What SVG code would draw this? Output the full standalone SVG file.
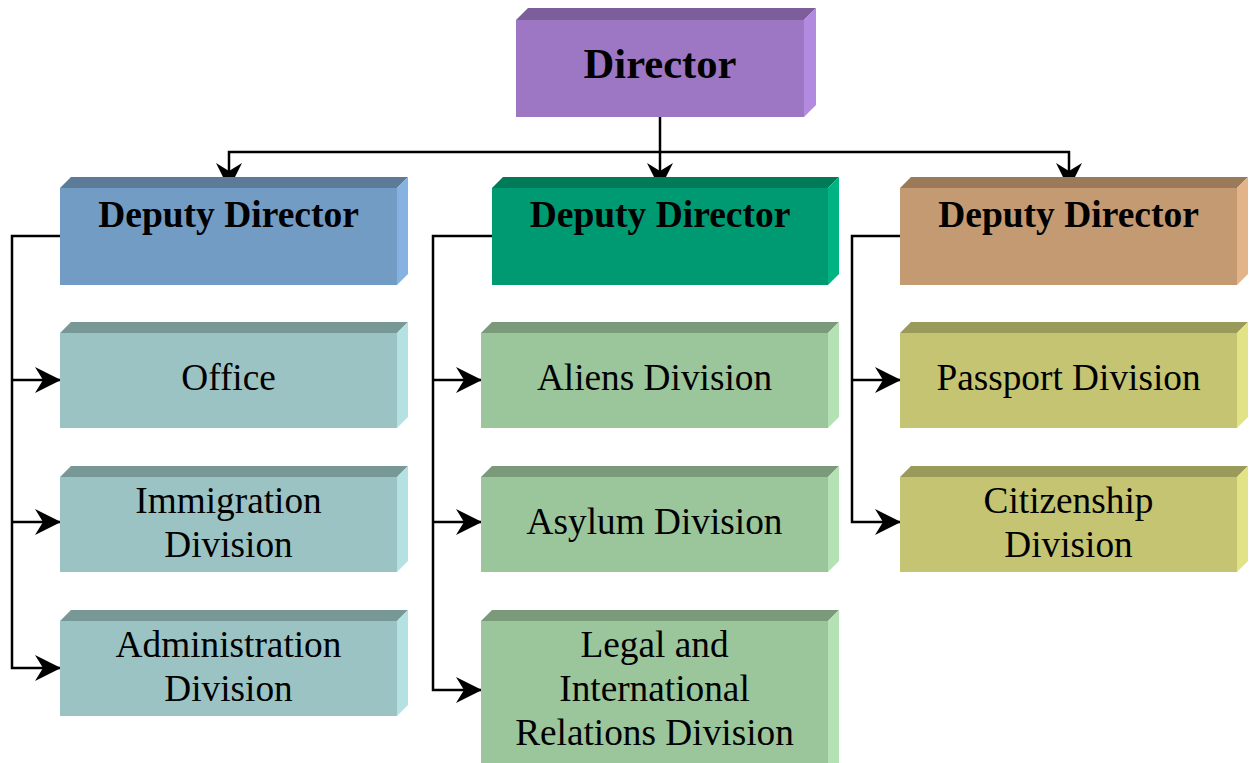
<svg xmlns="http://www.w3.org/2000/svg" width="1252" height="763" viewBox="0 0 1252 763">
<defs>
<style>
text{font-family:"Liberation Serif","Times New Roman",serif;fill:#000;text-anchor:middle}
.t{font-size:37.3px}
.b{font-size:37.5px;font-weight:bold}
.bb{font-size:42.6px;font-weight:bold}
.con{fill:none;stroke:#000;stroke-width:2.5}
.arr{marker-end:url(#ah)}
.pf{fill:#9d77c3}.pt{fill:#7b5e9a}.ps{fill:#b28ae0}
.bf{fill:#739cc5}.bt{fill:#5c7b99}.bs{fill:#86b2e2}
.gf{fill:#009a72}.gt{fill:#007a59}.gs{fill:#00b383}
.of{fill:#c49a73}.ot{fill:#9b7a5a}.os{fill:#e2b487}
.cf{fill:#9bc3c3}.ct{fill:#789898}.cs{fill:#b4e2e2}
.lf{fill:#9bc59b}.lt{fill:#7a9a7a}.ls{fill:#b4e2b4}
.yf{fill:#c4c473}.yt{fill:#9a9a5a}.ys{fill:#e2e286}
</style>
<marker id="ah" markerUnits="userSpaceOnUse" viewBox="-30 -15 32 30" refX="0" refY="0" markerWidth="32" markerHeight="30" orient="auto" overflow="visible">
<path d="M1,0 L-25,-13 L-17,0 L-25,13 Z" fill="#000"/>
</marker>
</defs>

<g id="connectors">
<path class="con arr" d="M660,117 V188"/>
<path class="con arr" d="M660,152 H229 V188"/>
<path class="con arr" d="M660,152 H1069 V188"/>
<path class="con arr" d="M60,236 H12 V668 H60"/>
<path class="con arr" d="M12,380 H60"/>
<path class="con arr" d="M12,522 H60"/>
<path class="con arr" d="M492,236 H433 V690 H481"/>
<path class="con arr" d="M433,380 H481"/>
<path class="con arr" d="M433,522 H481"/>
<path class="con arr" d="M900,236 H852 V522 H900"/>
<path class="con arr" d="M852,380 H900"/>
</g>

<g id="director">
<polygon class="pt" points="516,20 528,8 816,8 804,20"/>
<polygon class="ps" points="804,20 816,8 816,105 804,117"/>
<rect class="pf" x="516" y="20" width="288" height="97"/>
<text class="bb" x="660" y="78">Director</text>
</g>

<g id="deputy-left">
<polygon class="bt" points="60,188 71,177 408,177 397,188"/>
<polygon class="bs" points="397,188 408,177 408,274 397,285"/>
<rect class="bf" x="60" y="188" width="337" height="97"/>
<text class="b" x="228.5" y="227">Deputy Director</text>
</g>

<g id="deputy-center">
<polygon class="gt" points="492,188 503,177 839,177 828,188"/>
<polygon class="gs" points="828,188 839,177 839,274 828,285"/>
<rect class="gf" x="492" y="188" width="336" height="97"/>
<text class="b" x="660" y="227">Deputy Director</text>
</g>

<g id="deputy-right">
<polygon class="ot" points="900,188 911,177 1248,177 1237,188"/>
<polygon class="os" points="1237,188 1248,177 1248,274 1237,285"/>
<rect class="of" x="900" y="188" width="337" height="97"/>
<text class="b" x="1068.5" y="227">Deputy Director</text>
</g>

<g id="office">
<polygon class="ct" points="60,333 71,322 408,322 397,333"/>
<polygon class="cs" points="397,333 408,322 408,417 397,428"/>
<rect class="cf" x="60" y="333" width="337" height="95"/>
<text class="t" x="228.5" y="390">Office</text>
</g>

<g id="immigration">
<polygon class="ct" points="60,477 71,466 408,466 397,477"/>
<polygon class="cs" points="397,477 408,466 408,561 397,572"/>
<rect class="cf" x="60" y="477" width="337" height="95"/>
<text class="t" x="228.5" y="513">Immigration</text>
<text class="t" x="228.5" y="557">Division</text>
</g>

<g id="administration">
<polygon class="ct" points="60,621 71,610 408,610 397,621"/>
<polygon class="cs" points="397,621 408,610 408,705 397,716"/>
<rect class="cf" x="60" y="621" width="337" height="95"/>
<text class="t" x="228.5" y="657">Administration</text>
<text class="t" x="228.5" y="701">Division</text>
</g>

<g id="aliens">
<polygon class="lt" points="481,333 492,322 839,322 828,333"/>
<polygon class="ls" points="828,333 839,322 839,417 828,428"/>
<rect class="lf" x="481" y="333" width="347" height="95"/>
<text class="t" x="654.5" y="390">Aliens Division</text>
</g>

<g id="asylum">
<polygon class="lt" points="481,477 492,466 839,466 828,477"/>
<polygon class="ls" points="828,477 839,466 839,561 828,572"/>
<rect class="lf" x="481" y="477" width="347" height="95"/>
<text class="t" x="654.5" y="534">Asylum Division</text>
</g>

<g id="legal">
<polygon class="lt" points="481,621 492,610 839,610 828,621"/>
<polygon class="ls" points="828,621 839,610 839,765 828,776"/>
<rect class="lf" x="481" y="621" width="347" height="150"/>
<text class="t" x="654.5" y="657">Legal and</text>
<text class="t" x="654.5" y="701">International</text>
<text class="t" x="654.5" y="745">Relations Division</text>
</g>

<g id="passport">
<polygon class="yt" points="900,333 911,322 1248,322 1237,333"/>
<polygon class="ys" points="1237,333 1248,322 1248,417 1237,428"/>
<rect class="yf" x="900" y="333" width="337" height="95"/>
<text class="t" x="1068.5" y="390">Passport Division</text>
</g>

<g id="citizenship">
<polygon class="yt" points="900,477 911,466 1248,466 1237,477"/>
<polygon class="ys" points="1237,477 1248,466 1248,561 1237,572"/>
<rect class="yf" x="900" y="477" width="337" height="95"/>
<text class="t" x="1068.5" y="513">Citizenship</text>
<text class="t" x="1068.5" y="557">Division</text>
</g>
</svg>
